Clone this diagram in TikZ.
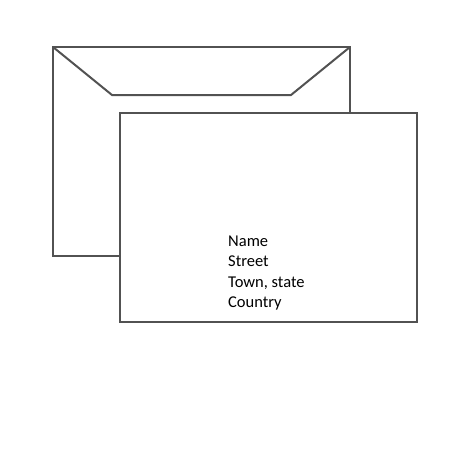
\documentclass[tikz,border=0pt]{standalone}
\usepackage{fontspec}
\setmainfont{Carlito}
\begin{document}
\begin{tikzpicture}[x=1pt,y=-1pt,
  edge/.style={draw=black!68, line width=2pt, line join=miter},
  addr/.style={anchor=base west, inner sep=0pt, font=\fontsize{16.5}{20}\selectfont, text=black}]
\useasboundingbox (0,0) rectangle (474,474);
\coordinate (b1) at (53,47);
\coordinate (b2) at (350,256);
\coordinate (f1) at (112,95);
\coordinate (f2) at (291,95);
\coordinate (f3) at (350,47);
\draw[edge] (b1) rectangle (b2);
\draw[edge] (b1) -- (f1) -- (f2) -- (f3);
\node[edge, fill=white, minimum width=297pt, minimum height=209pt, inner sep=0pt, anchor=north west] (front) at (119,112) {};
\node[addr] (n1) at (228,246) {Name};
\node[addr] (n2) at (228,266.5) {Street};
\node[addr] (n3) at (228,287) {Town, state};
\node[addr] (n4) at (228,307.5) {Country};
\end{tikzpicture}
\end{document}
